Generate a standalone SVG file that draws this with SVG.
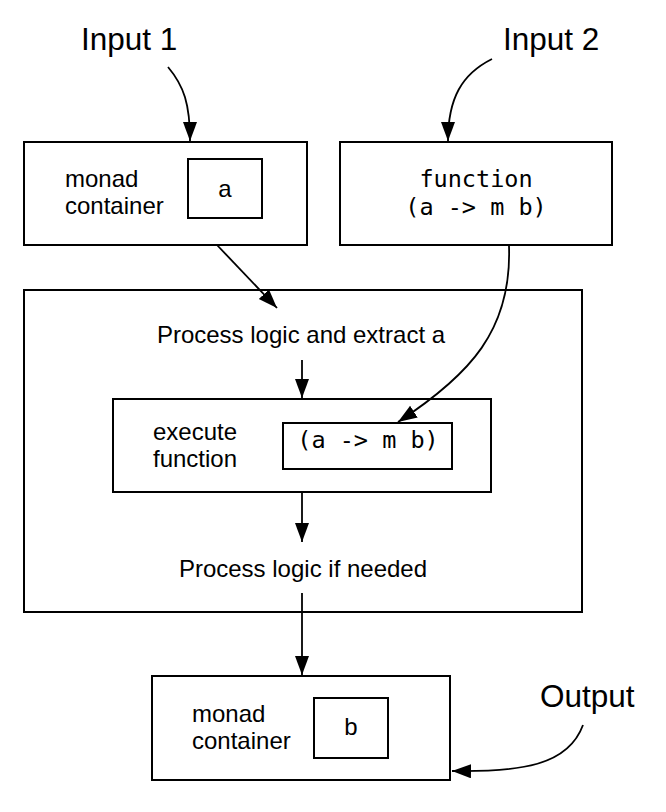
<svg xmlns="http://www.w3.org/2000/svg" width="666" height="812" viewBox="0 0 666 812">
<defs>
<marker id="ah" markerUnits="userSpaceOnUse" markerWidth="20" markerHeight="15" refX="19" refY="7" orient="auto">
<path d="M0,0 L19,7 L0,14 z" fill="#000"/>
</marker>
<style>
.box{fill:#fff;stroke:#000;stroke-width:2}
.cn{fill:none;stroke:#000;stroke-width:1.8;marker-end:url(#ah)}
.s{font-family:"Liberation Sans",Arial,sans-serif;font-size:24px;fill:#000}
.l{font-family:"Liberation Sans",Arial,sans-serif;font-size:31.5px;fill:#000}
.m{font-family:"DejaVu Sans Mono","Liberation Mono",monospace;font-size:23.5px;fill:#000}
.c{text-anchor:middle}
</style>
</defs>
<rect width="666" height="812" fill="#fff"/>
<g id="label-input1"><text class="l" x="81" y="50">Input 1</text></g>
<g id="label-input2"><text class="l" x="503" y="50">Input 2</text></g>
<g id="label-output"><text class="l" x="540" y="707">Output</text></g>
<g id="monad-a">
<rect class="box" x="24" y="142" width="283" height="103"/>
<text class="s" x="65" y="187">monad</text>
<text class="s" x="65" y="214">container</text>
<rect class="box" x="188" y="159" width="74" height="59"/>
<text class="s c" x="225" y="197">a</text>
</g>
<g id="function">
<rect class="box" x="340" y="142" width="272" height="103"/>
<text class="m c" x="476" y="187">function</text>
<text class="m c" x="476" y="215">(a -&gt; m b)</text>
</g>
<g id="process">
<rect class="box" x="24" y="290" width="558" height="322"/>
<text class="s c" x="301" y="343">Process logic and extract a</text>
<text class="s c" x="303" y="577">Process logic if needed</text>
</g>
<g id="execute">
<rect class="box" x="113" y="399" width="378" height="93"/>
<text class="s" x="153" y="440">execute</text>
<text class="s" x="153" y="467">function</text>
<rect class="box" x="283" y="423" width="169" height="46"/>
<text class="m c" x="368" y="448">(a -&gt; m b)</text>
</g>
<g id="monad-b">
<rect class="box" x="152" y="676" width="298" height="104"/>
<text class="s" x="192" y="722">monad</text>
<text class="s" x="192" y="749">container</text>
<rect class="box" x="314" y="698" width="74" height="60"/>
<text class="s c" x="351" y="735">b</text>
</g>
<g id="connectors">
<path class="cn" d="M168,67 C184,86 190,104 190,141"/>
<path class="cn" d="M492,59 C462,74 448,98 448,141"/>
<path class="cn" d="M217,245 L277,308"/>
<path class="cn" d="M509,246 C512,330 470,375 398,422"/>
<path class="cn" d="M302,360 L302,398"/>
<path class="cn" d="M302,493 L302,542"/>
<path class="cn" d="M302,593 L302,675"/>
<path class="cn" d="M583,725 C568,766 520,772 452,771"/>
</g>
</svg>
